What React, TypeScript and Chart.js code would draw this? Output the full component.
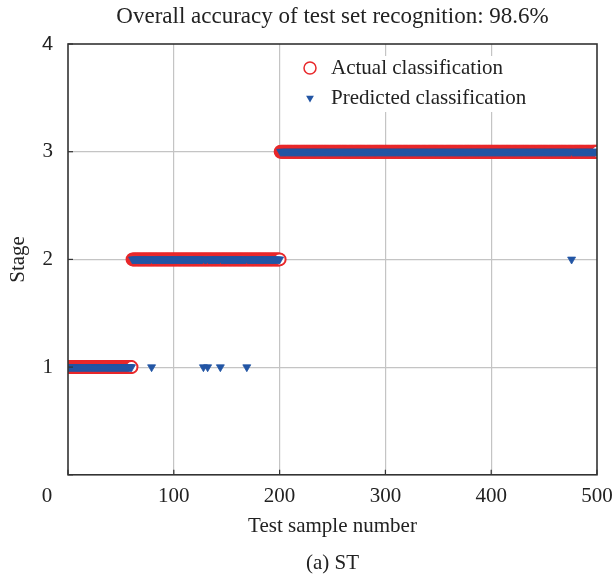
import React, { useEffect, useRef } from 'react';
import { Chart, registerables } from 'chart.js';

Chart.register(...registerables);

// ---- text ----
const chartTitle = 'Overall accuracy of test set recognition: 98.6%';
const subCaption = '(a) ST';
const xAxisTitle = 'Test sample number';
const yAxisTitle = 'Stage';
const actualLabel = 'Actual classification';
const predictedLabel = 'Predicted classification';

// ---- data: actual stage segments (sample ranges) ----
const segmentStages = [1, 2, 3];
const segmentFirstSample = [1, 61, 201];
const segmentLastSample = [60, 200, 500];

// ---- misclassified samples and the stage they were predicted as ----
const misclassifiedSamples = [79, 128, 132, 144, 169, 476];
const misclassifiedAs = [1, 1, 1, 1, 1, 2];

// ---- ticks ----
const xTicks = [0, 100, 200, 300, 400, 500];
const yTicks = [0, 1, 2, 3, 4];

const SERIF = '"Liberation Serif", "Times New Roman", serif';
const SANS = '"Liberation Sans", Arial, sans-serif';
const TEXT = '#222222';
const RED = '#e8282b';
const BLUE = '#2255a4';
const GRID = '#c4c4c4';
const AXIS = '#333333';

const actualPoints: { x: number; y: number }[] = [];
segmentStages.forEach((stage, i) => {
  for (let n = segmentFirstSample[i]; n <= segmentLastSample[i]; n++) {
    actualPoints.push({ x: n, y: stage });
  }
});
const predictedPoints = actualPoints.map((p) => {
  const k = misclassifiedSamples.indexOf(p.x);
  return { x: p.x, y: k >= 0 ? misclassifiedAs[k] : p.y };
});

const X_TICK_PAD = 9;
const TICK_FONT_SIZE = 21;

const framePlugin = {
  id: 'frame',
  afterDatasetsDraw(chart: any) {
    const { ctx, chartArea, scales } = chart;
    const { left, right, top, bottom } = chartArea;
    ctx.save();
    // inward tick marks
    ctx.strokeStyle = AXIS;
    ctx.lineWidth = 1.2;
    yTicks.forEach((v) => {
      const py = scales.y.getPixelForValue(v);
      ctx.beginPath();
      ctx.moveTo(left, py);
      ctx.lineTo(left + 5, py);
      ctx.stroke();
    });
    xTicks.forEach((v) => {
      const px = scales.x.getPixelForValue(v);
      ctx.beginPath();
      ctx.moveTo(px, bottom);
      ctx.lineTo(px, bottom - 5);
      ctx.stroke();
    });
    // box
    ctx.lineWidth = 1.6;
    ctx.strokeStyle = AXIS;
    ctx.strokeRect(left, top, right - left, bottom - top);

    // legend inside plot
    const bx = left + 218;
    const by = top + 12;
    ctx.fillStyle = '#ffffff';
    ctx.fillRect(bx, by, 270, 56);
    const mx = left + 242;
    const y1 = top + 24;
    const y2 = top + 54;
    ctx.beginPath();
    ctx.arc(mx, y1, 6, 0, Math.PI * 2);
    ctx.fillStyle = '#ffffff';
    ctx.fill();
    ctx.lineWidth = 1.5;
    ctx.strokeStyle = RED;
    ctx.stroke();
    ctx.beginPath();
    ctx.moveTo(mx - 3.9, y2 - 2.3);
    ctx.lineTo(mx + 3.9, y2 - 2.3);
    ctx.lineTo(mx, y2 + 4.4);
    ctx.closePath();
    ctx.fillStyle = BLUE;
    ctx.fill();
    ctx.font = `21px ${SERIF}`;
    ctx.fillStyle = TEXT;
    ctx.textAlign = 'left';
    ctx.textBaseline = 'middle';
    ctx.fillText(actualLabel, mx + 21, y1);
    ctx.fillText(predictedLabel, mx + 21, y2);

    // the x-axis "0" label, set left of the origin as in the source figure
    const x0 = scales.x.getPixelForValue(0);
    ctx.textAlign = 'center';
    ctx.fillText(String(xTicks[0]), x0 - 21, scales.x.top + X_TICK_PAD + (TICK_FONT_SIZE * 1.2) / 2);
    ctx.restore();
  },
};

export default function App() {
  const ref = useRef<HTMLCanvasElement | null>(null);
  useEffect(() => {
    document.body.style.margin = '0';
    const canvas = ref.current;
    if (!canvas) return;
    const chart = new Chart(canvas, {
      type: 'scatter',
      data: {
        datasets: [
          {
            label: predictedLabel,
            data: predictedPoints,
            pointStyle: 'triangle',
            rotation: 180,
            pointRadius: 4.6,
            pointBackgroundColor: BLUE,
            pointBorderColor: BLUE,
            pointBorderWidth: 0.8,
            showLine: false,
          } as any,
          {
            label: actualLabel,
            data: actualPoints,
            pointStyle: 'circle',
            pointRadius: 6,
            pointBackgroundColor: '#ffffff',
            pointBorderColor: RED,
            pointBorderWidth: 2,
            showLine: false,
          } as any,
        ],
      },
      options: {
        responsive: false,
        animation: false,
        events: [],
        layout: { padding: { left: 0, right: 17, top: 0, bottom: 0 } },
        plugins: {
          legend: { display: false },
          tooltip: { enabled: false },
          title: {
            display: true,
            text: chartTitle,
            fullSize: false,
            color: TEXT,
            font: { family: SERIF, size: 23, weight: 'normal' },
            padding: { top: 3, bottom: 13.4 },
          },
          subtitle: {
            display: true,
            position: 'bottom',
            text: subCaption,
            fullSize: false,
            color: TEXT,
            font: { family: SERIF, size: 21, weight: 'normal' },
            padding: { top: 4, bottom: 1 },
          },
        },
        scales: {
          x: {
            type: 'linear',
            min: 0,
            max: 500,
            afterBuildTicks: (s: any) => {
              s.ticks = xTicks.map((v) => ({ value: v }));
            },
            afterFit: (s: any) => {
              s.height = 72;
              s.paddingLeft = 0;
              s.paddingRight = 0;
            },
            border: { display: false },
            grid: {
              drawTicks: false,
              color: (c: any) => (c.tick && (c.tick.value === 0 || c.tick.value === 500) ? 'rgba(0,0,0,0)' : GRID),
              lineWidth: 1.2,
            },
            ticks: {
              autoSkip: false,
              maxRotation: 0,
              padding: X_TICK_PAD,
              color: TEXT,
              font: { family: SERIF, size: TICK_FONT_SIZE },
              callback: (v: any) => (v === 0 ? '' : String(v)),
            },
            title: {
              display: true,
              text: xAxisTitle,
              color: TEXT,
              font: { family: SERIF, size: 21 },
              padding: { top: 4, bottom: 7.5 },
            },
          },
          y: {
            type: 'linear',
            min: 0,
            max: 4,
            afterBuildTicks: (s: any) => {
              s.ticks = yTicks.map((v) => ({ value: v }));
            },
            afterFit: (s: any) => {
              s.width = 68;
              s.paddingTop = 0;
              s.paddingBottom = 0;
            },
            border: { display: false },
            grid: {
              drawTicks: false,
              color: (c: any) => (c.tick && (c.tick.value === 0 || c.tick.value === 4) ? 'rgba(0,0,0,0)' : GRID),
              lineWidth: 1.2,
            },
            ticks: {
              autoSkip: false,
              padding: 15,
              color: TEXT,
              font: (c: any) =>
                c.tick && c.tick.value === 4
                  ? { family: SANS, size: 20 }
                  : { family: SERIF, size: TICK_FONT_SIZE },
              callback: (v: any) => (v === 0 ? '' : String(v)),
            },
            title: {
              display: true,
              text: yAxisTitle,
              color: TEXT,
              font: { family: SERIF, size: 21 },
              padding: { top: 6, bottom: 0 },
            },
          },
        },
      } as any,
      plugins: [framePlugin],
    });
    return () => chart.destroy();
  }, []);
  return <canvas ref={ref} width={614} height={577} style={{ display: 'block' }} />;
}
